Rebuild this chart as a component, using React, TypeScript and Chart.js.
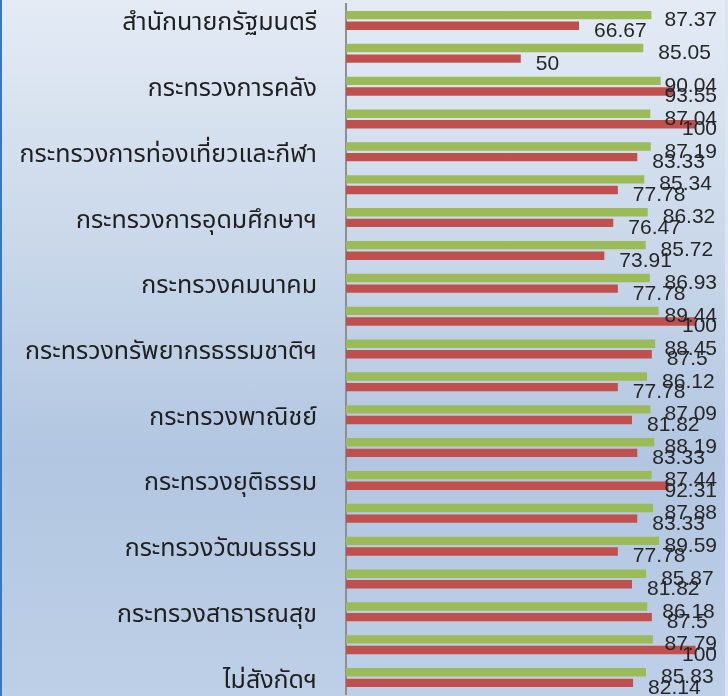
import React, { useEffect, useRef } from "react";
import { Chart, registerables } from "chart.js";

Chart.register(...registerables);

const categories: string[] = [
  "สำนักนายกรัฐมนตรี",
  "กระทรวงกลาโหม",
  "กระทรวงการคลัง",
  "กระทรวงการต่างประเทศ",
  "กระทรวงการท่องเที่ยวและกีฬา",
  "กระทรวงการพัฒนาสังคมฯ",
  "กระทรวงการอุดมศึกษาฯ",
  "กระทรวงเกษตรและสหกรณ์",
  "กระทรวงคมนาคม",
  "กระทรวงดิจิทัลฯ",
  "กระทรวงทรัพยากรธรรมชาติฯ",
  "กระทรวงพลังงาน",
  "กระทรวงพาณิชย์",
  "กระทรวงมหาดไทย",
  "กระทรวงยุติธรรม",
  "กระทรวงแรงงาน",
  "กระทรวงวัฒนธรรม",
  "กระทรวงศึกษาธิการ",
  "กระทรวงสาธารณสุข",
  "กระทรวงอุตสาหกรรม",
  "ไม่สังกัดฯ",
];

const greenValues: number[] = [
  87.37, 85.05, 90.04, 87.04, 87.19, 85.34, 86.32, 85.72, 86.93, 89.44, 88.45,
  86.12, 87.09, 88.19, 87.44, 87.88, 89.59, 85.87, 86.18, 87.79, 85.83,
];

const redValues: number[] = [
  66.67, 50, 93.55, 100, 83.33, 77.78, 76.47, 73.91, 77.78, 100, 87.5, 77.78,
  81.82, 83.33, 92.31, 83.33, 77.78, 81.82, 87.5, 100, 82.14,
];

const valueLabelPlugin = {
  id: "valueLabels",
  afterDatasetsDraw(chart: any) {
    const ctx = chart.ctx;
    ctx.save();
    ctx.font = "21px 'Liberation Sans', Arial, sans-serif";
    ctx.fillStyle = "#262626";
    ctx.textAlign = "left";
    ctx.textBaseline = "alphabetic";
    chart.data.datasets.forEach((ds: any, di: number) => {
      const meta = chart.getDatasetMeta(di);
      meta.data.forEach((bar: any, i: number) => {
        const v = ds.data[i];
        const text = String(v);
        const w = ctx.measureText(text).width;
        const x = Math.min(bar.x + 15, 717 - w);
        ctx.fillText(text, x, bar.y + 11);
      });
    });
    ctx.restore();
  },
};

export default function App() {
  const ref = useRef<HTMLCanvasElement | null>(null);

  useEffect(() => {
    if (!ref.current) return;
    const chart = new Chart(ref.current, {
      type: "bar",
      data: {
        labels: categories,
        datasets: [
          {
            data: greenValues,
            backgroundColor: "#9bbb59",
            borderWidth: 0,
            barPercentage: 0.79,
            categoryPercentage: 0.647,
          },
          {
            data: redValues,
            backgroundColor: "#c0504d",
            borderWidth: 0,
            barPercentage: 0.79,
            categoryPercentage: 0.647,
          },
        ],
      },
      options: {
        indexAxis: "y",
        responsive: false,
        animation: false,
        layout: { padding: { top: 4, bottom: 2, right: 8, left: 0 } },
        plugins: {
          legend: { display: false },
          tooltip: { enabled: false },
        },
        scales: {
          x: {
            display: false,
            min: 0,
            max: 107,
          },
          y: {
            grid: { display: false, drawTicks: false },
            border: { display: true, color: "#8f8f8f", width: 2 },
            afterFit: (scale: any) => {
              scale.width = 346;
              scale.paddingTop = 0;
              scale.paddingBottom = 0;
            },
            ticks: {
              autoSkip: false,
              padding: 29,
              labelOffset: 5,
              color: "#1f1f1f",
              font: { size: 25, family: "'Noto Sans Thai', 'Noto Sans', sans-serif" },
              callback: (_v: any, idx: number) =>
                idx % 2 === 0 ? categories[idx] : "",
            },
          },
        },
      },
      plugins: [valueLabelPlugin],
    });
    return () => chart.destroy();
  }, []);

  return (
    <div
      style={{
        position: "absolute",
        left: 0,
        top: 0,
        width: 728,
        height: 696,
        background:
          "linear-gradient(to right, #3a78bd 0px, #3a78bd 2px, rgba(0,0,0,0) 2px, rgba(0,0,0,0) 725px, #dbe5f1 725px), linear-gradient(to bottom, #e4ebf5 0%, #cbd9ea 33%, #b2c6e1 66%, #bed0e7 100%)",
      }}
    >
      <canvas ref={ref} width={728} height={696} style={{ display: "block" }} />
    </div>
  );
}
